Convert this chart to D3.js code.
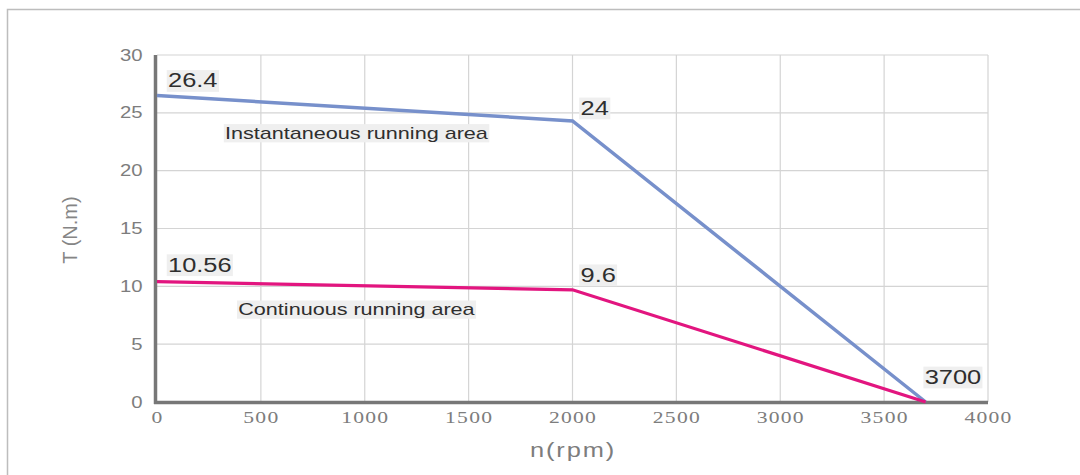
<!DOCTYPE html>
<html><head><meta charset="utf-8">
<script src="https://cdn.jsdelivr.net/npm/d3@7"></script>
<style>
html,body{margin:0;padding:0;background:#fff;}
svg{display:block;}
</style></head>
<body>
<svg id="c" width="1080" height="475"></svg>
<script>
const xTicks = [0,500,1000,1500,2000,2500,3000,3500,4000];
const yTicks = [0,5,10,15,20,25,30];
const speed = [0, 2000, 3700];
const instantTorque = [26.5, 24.3, 0];
const continuousTorque = [10.4, 9.7, 0];
const pointLabels = [
  {x:0, y:26.5, text:"26.4", dx:11, dy:-8},
  {x:2000, y:24.3, text:"24", dx:8, dy:-6},
  {x:0, y:10.4, text:"10.56", dx:11, dy:-10},
  {x:2000, y:9.7, text:"9.6", dx:8, dy:-8},
  {x:3700, y:0, text:"3700", dx:-1, dy:-18}
];
const areaLabels = [
  {x:960, y:22.75, text:"Instantaneous running area"},
  {x:960, y:7.5, text:"Continuous running area"}
];

const SX = 1.27; // horizontal stretch of the text in the picture
const svg = d3.select("#c");
// outer frame
svg.append("rect").attr("x",7.5).attr("y",9.5).attr("width",1100).attr("height",500)
  .attr("fill","none").attr("stroke","#bdbdbd").attr("stroke-width",1.5);

const x = d3.scaleLinear().domain([0,4000]).range([157,988]);
const y = d3.scaleLinear().domain([0,30]).range([402,55]);

// grid
const g = svg.append("g");
g.selectAll(".vg").data(xTicks.slice(1)).join("line")
  .attr("x1",d=>x(d)).attr("x2",d=>x(d)).attr("y1",y(30)).attr("y2",y(0))
  .attr("stroke","#d4d4d4").attr("stroke-width",1.2);
g.selectAll(".hg").data(yTicks.slice(1)).join("line")
  .attr("x1",x(0)).attr("x2",x(4000)).attr("y1",d=>y(d)).attr("y2",d=>y(d))
  .attr("stroke","#d4d4d4").attr("stroke-width",1.2);

// axes
const xAxis = d3.axisBottom(x).tickValues(xTicks).tickFormat(d3.format("d")).tickSize(0).tickPadding(9);
const yAxis = d3.axisLeft(y).tickValues(yTicks).tickFormat(d3.format("d")).tickSize(0).tickPadding(9);
const gx = svg.append("g").attr("transform",`translate(0,${y(0)})`).call(xAxis);
gx.select(".domain").remove();
gx.selectAll("text").attr("fill","#7d7d7d").style("font-family","'Liberation Serif', serif")
  .style("font-size","17px").style("letter-spacing","1px").attr("transform",`scale(${SX},1)`);
const gy = svg.append("g").attr("transform",`translate(${x(0)-3},0)`).call(yAxis);
gy.select(".domain").remove();
gy.selectAll("text").attr("fill","#7d7d7d").style("font-family","'Liberation Sans', Arial, sans-serif")
  .style("font-size","16px").attr("transform",`scale(${SX},1)`);

svg.append("line").attr("x1",x(0)-1.5).attr("x2",x(0)-1.5).attr("y1",y(30)).attr("y2",y(0)+2)
  .attr("stroke","#777").attr("stroke-width",3.5);
svg.append("line").attr("x1",x(0)-3).attr("x2",x(4000)).attr("y1",y(0)+0.5).attr("y2",y(0)+0.5)
  .attr("stroke","#777").attr("stroke-width",3.5);

// lines
const line = d3.line().x(d=>x(d[0])).y(d=>y(d[1]));
svg.append("path").datum(speed.map((s,i)=>[s,instantTorque[i]])).attr("d",line)
  .attr("fill","none").attr("stroke","#7790cb").attr("stroke-width",3.5);
svg.append("path").datum(speed.map((s,i)=>[s,continuousTorque[i]])).attr("d",line)
  .attr("fill","none").attr("stroke","#e2157f").attr("stroke-width",3.2);

function boxLabel(px,py,text,size,anchor){
  const gg = svg.append("g").attr("transform",`translate(${px},${py}) scale(${SX},1)`);
  const t = gg.append("text").attr("x",0).attr("y",0).attr("text-anchor",anchor)
    .attr("fill","#2e2e2e").style("font-family","'Liberation Sans', Arial, sans-serif")
    .style("font-size",size+"px").text(text);
  const b = t.node().getBBox();
  gg.insert("rect","text").attr("x",b.x-1).attr("y",b.y+1).attr("width",b.width+2).attr("height",b.height-1)
    .attr("fill","#efefef");
}
pointLabels.forEach(d=>boxLabel(x(d.x)+d.dx, y(d.y)+d.dy, d.text, 20, "start"));
areaLabels.forEach(d=>boxLabel(x(d.x), y(d.y), d.text, 17, "middle"));

// axis titles
svg.append("text").attr("transform",`translate(77,${230}) rotate(-90)`).attr("text-anchor","middle")
  .attr("fill","#858585").style("font-family","'Liberation Sans', Arial, sans-serif")
  .style("font-size","20px").text("T (N.m)");
svg.append("text").attr("transform",`translate(573,457) scale(${SX},1)`).attr("text-anchor","middle")
  .attr("fill","#7d7d7d").style("font-family","'Liberation Sans', Arial, sans-serif")
  .style("font-size","20px").style("letter-spacing","1.5px").text("n(rpm)");
</script>
</body></html>
